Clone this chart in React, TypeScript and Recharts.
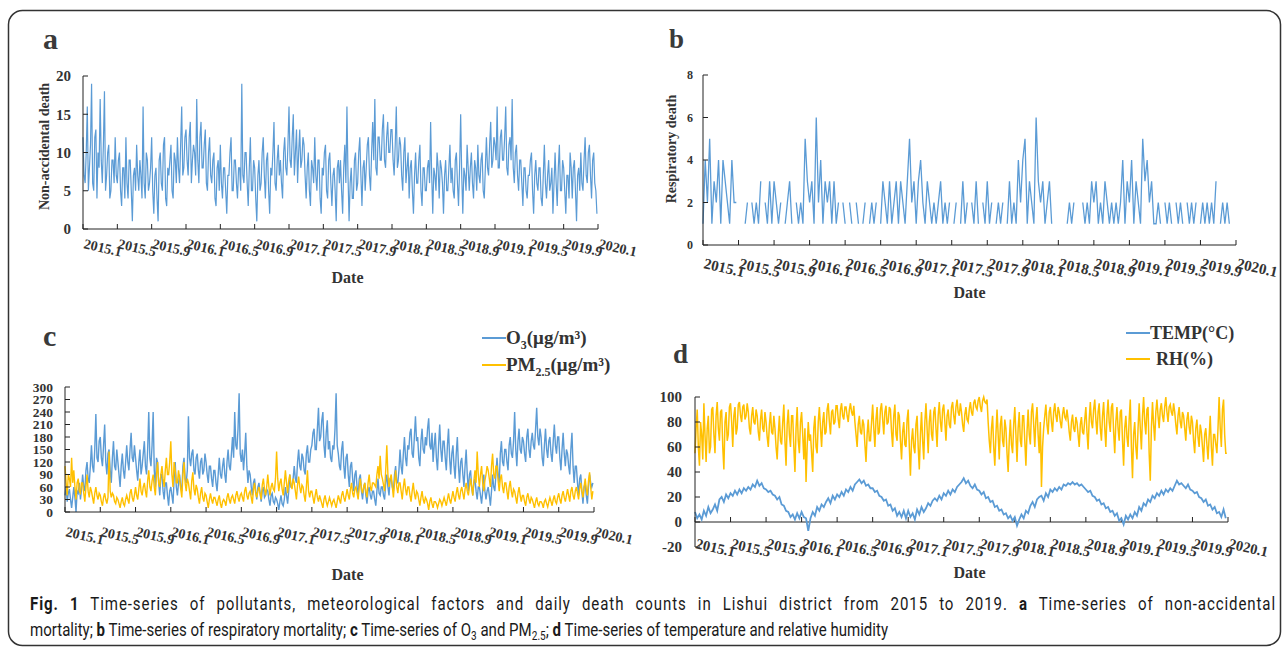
import React, { useLayoutEffect, useRef, useState } from 'react';
import { LineChart, Line, XAxis, YAxis, Legend, ReferenceLine } from 'recharts';

// x axis: months since Jan 2015, one label every 4 months
const TICK_LABELS = [
  '2015.1', '2015.5', '2015.9', '2016.1', '2016.5', '2016.9', '2017.1', '2017.5',
  '2017.9', '2018.1', '2018.5', '2018.9', '2019.1', '2019.5', '2019.9', '2020.1',
];
const MONTHS_PER_TICK = 4;

// a - non-accidental deaths, 8 readings per month
const NON_ACCIDENTAL = [
  12, 7, 6, 10, 16, 5, 8, 11, 19, 6, 5, 12, 13, 4, 10, 8, 17, 9, 6, 11, 18, 5, 7, 10, 11, 4, 5, 9, 9, 6, 12, 7, 6, 9, 10, 5, 3, 8, 8, 4, 12, 6, 4, 9, 9, 5, 1, 7,
  8, 5, 11, 7, 5, 9, 7, 4, 16, 6, 4, 10, 9, 5, 6, 8, 12, 5, 2, 7, 8, 4, 1, 9, 10, 6, 5, 11, 12, 4, 3, 8, 7, 9, 11, 5, 4, 10, 9, 6, 12, 8, 6, 11, 16, 7, 8, 12,
  13, 9, 7, 12, 14, 6, 9, 11, 10, 7, 17, 9, 6, 12, 14, 8, 8, 11, 13, 6, 5, 10, 12, 7, 6, 9, 10, 4, 3, 8, 9, 5, 11, 6, 4, 8, 8, 5, 2, 7, 7, 10, 12, 5, 5, 9, 9, 6,
  4, 8, 8, 5, 19, 7, 6, 10, 10, 6, 3, 8, 12, 5, 5, 9, 8, 4, 1, 7, 9, 5, 6, 10, 12, 7, 4, 9, 10, 5, 2, 8, 7, 10, 14, 6, 5, 9, 11, 7, 9, 6, 4, 10, 12, 8, 7, 11,
  16, 9, 8, 12, 15, 7, 10, 13, 6, 10, 13, 8, 9, 12, 11, 7, 4, 8, 10, 5, 3, 9, 8, 6, 12, 7, 5, 9, 9, 4, 2, 8, 7, 10, 11, 5, 4, 9, 10, 6, 3, 7, 8, 5, 1, 8, 9, 6,
  9, 5, 2, 8, 11, 6, 16, 7, 1, 6, 8, 4, 4, 9, 10, 5, 6, 10, 12, 7, 3, 8, 9, 5, 8, 11, 12, 7, 5, 10, 14, 9, 17, 8, 7, 12, 12, 9, 9, 13, 15, 9, 8, 12, 14, 10, 10, 13,
  13, 9, 7, 11, 16, 8, 9, 12, 11, 7, 5, 10, 12, 6, 8, 10, 4, 8, 9, 5, 2, 7, 10, 6, 6, 9, 11, 5, 3, 8, 8, 5, 5, 8, 9, 6, 14, 7, 2, 8, 7, 5, 10, 8, 4, 9, 8, 6,
  2, 7, 9, 5, 5, 8, 11, 6, 8, 5, 4, 9, 10, 6, 3, 8, 15, 7, 2, 8, 7, 5, 11, 8, 5, 8, 10, 6, 4, 9, 8, 5, 11, 7, 6, 9, 10, 5, 4, 8, 12, 8, 7, 11, 14, 8, 9, 12,
  11, 9, 16, 8, 8, 12, 13, 9, 9, 12, 16, 8, 7, 11, 12, 9, 17, 8, 6, 10, 11, 7, 5, 9, 9, 6, 3, 8, 8, 5, 4, 7, 7, 9, 10, 5, 2, 7, 9, 6, 5, 8, 8, 4, 3, 7, 11, 6,
  4, 7, 9, 5, 6, 8, 2, 6, 10, 6, 3, 8, 11, 5, 5, 9, 8, 5, 2, 7, 7, 4, 10, 8, 4, 8, 9, 5, 1, 7, 8, 5, 10, 6, 5, 9, 12, 7, 6, 10, 11, 7, 4, 9, 10, 6, 5, 2,
];

// b - respiratory deaths, 4 readings per month (null = no death, drawn as a gap)
const RESPIRATORY: (number | null)[] = [
  1, 4, 2, 5, 1, 3, 2, 4, 1, 4, 3, 2, 1, 4, 2, 2, null, 1, null, 1, 2, null, 2, 1, 2, 1, 3, null, 2, 1, 3, 1, 3, 2, 1, 2, null, 1, 2, 3, 1, null, 2, 1, 2, 1, 5, 3,
  2, 3, 1, 6, 2, 4, 1, 3, 2, 3, 1, 3, 1, 2, null, 2, 1, null, 2, 1, null, 2, 1, null, 1, 2, null, 1, 2, 1, 2, null, 1, 3, 2, 1, 3, 1, 2, 3, 1, 3, 2, 1, 3, 5, 2, 3,
  1, 3, 4, 2, 1, 3, 2, 1, 2, 1, 2, 3, 1, 2, 1, 2, null, 1, 2, null, 1, 3, 1, 2, null, 2, 1, 3, 1, null, 2, 1, 3, 1, 2, null, 1, 2, 1, 2, null, 1, 3, 1, 2, 1, 4, 2,
  4, 5, 1, 3, 2, 1, 6, 3, 2, 3, 1, 2, 3, 1, null, null, 1, null, 2, null, 1, 2, 1, 2, null, 1, null, 2, 1, 2, 1, 3, 2, 3, 1, 2, 1, 3, 2, 1, 2, 1, 2, 1, 2, 4, 1, 3,
  2, 4, 1, 3, 2, 1, 5, 3, 4, 2, 3, 1, 1, 2, 1, null, 2, 1, 2, 1, null, 2, 1, 2, 1, null, 2, 1, 2, 1, 2, null, 1, 2, 1, 2, 1, 2, 1, 3, null, 1, 2, 1, 2, 1, null, 2,
];

// c - pollutants (μg/m³), 8 readings per month
const O3 = [
  40, 60, 25, 45, 55, 30, 10, 35, 60, 35, 0, 50, 45, 70, 30, 55, 90, 60, 50, 100, 120, 80, 70, 110, 160, 110, 95, 150, 235, 130, 120, 170,
  180, 130, 110, 160, 210, 120, 90, 140, 150, 100, 70, 130, 170, 110, 100, 150, 120, 90, 60, 110, 140, 100, 80, 120, 160, 120, 100, 150, 190, 130, 120, 160,
  130, 100, 75, 120, 150, 90, 110, 140, 170, 110, 90, 150, 240, 130, 110, 160, 240, 100, 60, 130, 120, 70, 40, 90, 90, 50, 30, 70, 70, 40, 15, 50,
  60, 40, 20, 80, 120, 60, 40, 70, 90, 60, 50, 110, 130, 80, 70, 100, 230, 130, 110, 140, 150, 100, 90, 130, 140, 100, 80, 120, 130, 90, 100, 140,
  120, 90, 70, 110, 110, 80, 60, 100, 100, 70, 50, 90, 130, 90, 80, 110, 130, 90, 70, 120, 150, 110, 100, 140, 180, 130, 240, 160, 150, 200, 285, 140,
  120, 150, 100, 140, 190, 110, 70, 100, 90, 60, 40, 70, 80, 50, 30, 60, 70, 45, 25, 50, 60, 35, 40, 55, 50, 30, 15, 40, 45, 25, 20, 35,
  30, 20, 5, 25, 40, 20, 15, 30, 60, 40, 20, 50, 90, 60, 60, 80, 110, 80, 70, 120, 150, 110, 100, 140, 130, 100, 90, 140, 160, 120, 120, 150,
  160, 190, 200, 150, 150, 200, 250, 170, 180, 220, 240, 160, 130, 190, 220, 150, 170, 130, 120, 160, 150, 200, 285, 160, 140, 110, 100, 150, 170, 110, 80, 130,
  140, 90, 60, 110, 120, 80, 50, 90, 100, 60, 40, 80, 90, 50, 30, 60, 70, 40, 20, 50, 60, 40, 30, 50, 50, 30, 15, 50, 80, 45, 40, 60,
  60, 40, 30, 70, 90, 60, 40, 80, 80, 60, 50, 90, 110, 70, 70, 100, 150, 110, 90, 140, 180, 130, 110, 160, 150, 190, 200, 140, 130, 180, 230, 170,
  180, 130, 110, 170, 200, 150, 140, 180, 160, 200, 225, 160, 150, 190, 120, 160, 190, 130, 100, 160, 210, 150, 120, 170, 170, 130, 100, 160, 200, 130, 90, 140,
  160, 110, 80, 140, 180, 110, 70, 120, 130, 90, 60, 110, 150, 90, 50, 90, 100, 60, 40, 70, 80, 50, 30, 60, 60, 40, 20, 50, 90, 50, 30, 50,
  60, 40, 15, 50, 90, 60, 50, 90, 130, 90, 70, 140, 170, 120, 110, 150, 150, 120, 100, 160, 180, 140, 130, 170, 240, 150, 110, 170, 200, 150, 140, 180,
  170, 140, 120, 180, 200, 150, 130, 170, 190, 160, 150, 200, 250, 180, 160, 200, 180, 130, 110, 160, 200, 150, 130, 170, 180, 140, 120, 170, 210, 160, 140, 180,
  180, 130, 100, 150, 190, 140, 110, 150, 140, 110, 90, 150, 190, 110, 70, 110, 110, 70, 40, 80, 90, 50, 20, 60, 70, 40, 20, 60, 90, 70, 60, 70,
];
const PM25 = [
  110, 70, 40, 90, 80, 60, 130, 70, 100, 60, 30, 70, 80, 50, 45, 70, 70, 45, 25, 60, 90, 50, 35, 60, 50, 35, 20, 45, 60, 40, 30, 45,
  40, 25, 15, 35, 45, 30, 20, 35, 145, 50, 35, 45, 40, 25, 20, 35, 30, 20, 10, 25, 35, 20, 15, 30, 40, 30, 20, 45, 55, 35, 25, 40,
  60, 40, 30, 55, 80, 50, 40, 60, 70, 50, 35, 75, 100, 60, 50, 75, 90, 60, 40, 90, 120, 70, 60, 90, 110, 80, 60, 100, 130, 90, 90, 120,
  170, 90, 60, 120, 100, 70, 70, 100, 80, 55, 35, 90, 120, 70, 50, 80, 70, 50, 30, 75, 95, 55, 40, 65, 55, 35, 20, 45, 60, 35, 25, 45,
  40, 25, 10, 30, 45, 30, 20, 35, 35, 25, 15, 30, 40, 20, 10, 25, 30, 25, 15, 35, 45, 30, 20, 35, 40, 30, 20, 40, 50, 35, 25, 40,
  45, 35, 25, 50, 60, 40, 30, 45, 50, 35, 20, 55, 70, 45, 35, 50, 60, 45, 30, 65, 80, 55, 40, 60, 90, 60, 40, 60, 70, 55, 50, 80,
  145, 80, 50, 70, 80, 55, 40, 70, 100, 70, 45, 75, 90, 65, 55, 80, 70, 50, 30, 65, 85, 60, 45, 65, 60, 40, 25, 60, 100, 50, 35, 50,
  50, 35, 20, 40, 55, 35, 25, 40, 30, 20, 10, 30, 40, 25, 15, 25, 35, 25, 15, 25, 30, 20, 10, 25, 40, 30, 20, 40, 50, 35, 25, 40,
  55, 40, 30, 55, 70, 45, 35, 55, 60, 45, 30, 60, 80, 55, 45, 60, 70, 50, 35, 70, 90, 60, 50, 70, 70, 65, 60, 90, 110, 80, 135, 90,
  80, 65, 50, 100, 160, 90, 60, 80, 90, 60, 35, 70, 100, 60, 45, 70, 70, 50, 30, 60, 80, 55, 40, 60, 60, 40, 25, 50, 70, 45, 30, 50,
  45, 30, 15, 35, 50, 30, 20, 35, 30, 20, 5, 25, 35, 20, 10, 25, 25, 20, 10, 20, 30, 25, 15, 25, 35, 25, 15, 30, 45, 30, 20, 35,
  50, 35, 25, 45, 60, 40, 30, 50, 60, 45, 30, 55, 70, 50, 40, 60, 80, 60, 40, 75, 100, 70, 145, 90, 60, 90, 110, 70, 50, 75, 90, 110,
  100, 80, 60, 110, 140, 90, 80, 110, 110, 75, 50, 80, 90, 60, 45, 70, 70, 50, 30, 60, 75, 50, 35, 55, 50, 35, 20, 45, 60, 40, 25, 40,
  40, 25, 15, 35, 45, 30, 20, 35, 30, 20, 10, 25, 35, 20, 15, 25, 25, 20, 10, 25, 30, 20, 12, 25, 35, 25, 15, 30, 40, 25, 20, 35,
  45, 30, 20, 40, 50, 35, 25, 40, 55, 40, 25, 50, 60, 40, 30, 50, 60, 45, 30, 55, 70, 50, 35, 60, 80, 55, 40, 75, 95, 60, 30, 50,
];

// d - temperature (°C), 4 readings per month
const TEMP = [
  8, 3, 6, 2, 9, 5, 12, 7, 10, 14, 9, 18, 20, 16, 22, 19, 23, 21, 25, 22, 26, 23, 27, 25, 28, 26, 30, 28, 33, 29, 31, 27, 26, 24, 25, 22, 21, 18, 20, 14, 13, 9, 8, 4, 6, 2, 7, 3,
  8, 4, 3, -7, 3, 8, 5, 12, 9, 14, 12, 16, 19, 15, 21, 18, 22, 20, 24, 21, 26, 24, 28, 25, 30, 32, 34, 31, 33, 29, 30, 27, 27, 24, 25, 21, 20, 17, 18, 13, 14, 9, 11, 5, 8, 4, 9, 3,
  9, 4, 7, 2, 10, 6, 12, 8, 11, 15, 13, 17, 19, 17, 21, 18, 23, 21, 25, 22, 26, 24, 28, 30, 32, 35, 31, 33, 29, 27, 30, 26, 25, 22, 24, 19, 20, 16, 17, 12, 13, 9, 10, 6, 7, 3, 5, 1,
  4, -3, 2, 6, 3, 9, 7, 13, 16, 12, 18, 20, 21, 17, 23, 20, 26, 24, 27, 25, 28, 26, 30, 29, 31, 30, 32, 30, 31, 29, 30, 28, 26, 24, 25, 21, 20, 17, 18, 14, 15, 11, 12, 8, 9, 5, 7, 1,
  3, -2, 5, 2, 6, 3, 8, 5, 12, 9, 15, 13, 18, 16, 21, 19, 23, 21, 25, 22, 26, 24, 27, 25, 29, 33, 30, 31, 29, 27, 30, 26, 25, 23, 24, 20, 19, 16, 18, 13, 14, 10, 12, 7, 8, 4, 10, 3,
];

// d - relative humidity (%), 8 readings per month
const RH = [
  55, 75, 90, 60, 45, 80, 70, 50, 95, 70, 48, 75, 85, 55, 60, 90, 92, 70, 55, 85, 96, 75, 65, 88, 90, 60, 42, 80, 88, 65, 70, 92,
  95, 80, 60, 85, 92, 70, 75, 94, 96, 85, 80, 92, 94, 82, 85, 95, 88, 75, 70, 85, 92, 80, 78, 90, 85, 72, 65, 82, 90, 75, 72, 88,
  80, 68, 60, 78, 88, 72, 70, 85, 75, 60, 50, 70, 85, 65, 62, 80, 94, 65, 45, 78, 90, 70, 60, 85, 85, 60, 40, 75, 92, 65, 55, 80,
  88, 70, 50, 75, 32, 60, 80, 65, 70, 55, 40, 75, 85, 60, 55, 80, 92, 75, 60, 80, 88, 70, 72, 90, 95, 80, 70, 88, 90, 78, 80, 93,
  93, 82, 75, 90, 95, 85, 82, 92, 92, 85, 80, 90, 95, 88, 85, 93, 80, 70, 60, 78, 85, 72, 70, 82, 78, 62, 48, 70, 82, 65, 65, 80,
  94, 75, 60, 82, 92, 70, 72, 90, 95, 82, 70, 88, 93, 78, 80, 92, 90, 72, 60, 85, 94, 70, 65, 88, 85, 65, 50, 72, 80, 62, 60, 82,
  90, 60, 37, 65, 75, 60, 55, 78, 85, 60, 42, 70, 88, 65, 50, 80, 95, 75, 55, 80, 90, 70, 65, 88, 92, 75, 60, 85, 96, 80, 72, 90,
  94, 80, 65, 85, 90, 78, 75, 92, 96, 85, 78, 92, 98, 88, 85, 95, 88, 78, 72, 86, 92, 82, 80, 90, 96, 88, 85, 95, 98, 92, 90, 97,
  100, 92, 88, 97, 100, 96, 95, 98, 80, 65, 55, 75, 85, 60, 45, 70, 90, 70, 50, 78, 85, 65, 60, 82, 75, 55, 40, 65, 82, 62, 55, 78,
  92, 70, 48, 75, 88, 65, 60, 85, 85, 65, 45, 72, 90, 70, 62, 88, 95, 78, 60, 82, 92, 70, 55, 80, 28, 60, 75, 85, 94, 78, 70, 88,
  92, 80, 72, 88, 95, 85, 80, 92, 88, 80, 75, 86, 92, 84, 82, 90, 82, 72, 65, 80, 86, 75, 72, 84, 80, 70, 60, 78, 84, 72, 70, 82,
  92, 72, 58, 82, 96, 80, 75, 90, 98, 82, 70, 88, 95, 75, 65, 85, 96, 75, 60, 85, 98, 80, 72, 92, 95, 72, 55, 80, 92, 75, 65, 88,
  90, 65, 45, 75, 85, 68, 60, 82, 98, 60, 35, 70, 80, 60, 50, 75, 95, 75, 58, 85, 100, 80, 70, 90, 92, 55, 33, 75, 96, 78, 65, 88,
  98, 85, 75, 90, 95, 85, 80, 92, 100, 88, 80, 92, 94, 88, 85, 95, 88, 78, 70, 85, 92, 80, 75, 88, 85, 75, 65, 82, 88, 76, 70, 85,
  80, 65, 55, 75, 82, 68, 60, 78, 72, 60, 48, 70, 75, 62, 50, 68, 85, 60, 45, 70, 70, 62, 55, 75, 100, 75, 60, 90, 98, 70, 55, 55,
];

const BLUE = '#5b9bd5';
const GOLD = '#ffc000';
const SERIF = '"Liberation Serif", "Times New Roman", serif';
const SANS = 'Roboto, "Liberation Sans", sans-serif';
const INK = '#333';
const AXIS = '#222';

const TICKS = TICK_LABELS.map((_, i) => i * MONTHS_PER_TICK);
// month offset of reading i when a series holds n readings per month
const when = (i: number, n: number) => i / n;

const rowsA = NON_ACCIDENTAL.map((v, i) => ({ t: when(i, 8), v }));
const rowsB = RESPIRATORY.map((v, i) => ({ t: when(i, 4), v }));
const rowsO3 = O3.map((v, i) => ({ t: when(i, 8), v }));
const rowsPM = PM25.map((v, i) => ({ t: when(i, 8), v }));
const rowsTemp = TEMP.map((v, i) => ({ t: when(i, 4), v }));
const rowsRH = RH.map((v, i) => ({ t: when(i, 8), v }));

function DateTick(props: any) {
  const { x, y, payload, drop = 20, size = 14 } = props;
  const label = TICK_LABELS[Math.round(payload.value / MONTHS_PER_TICK)];
  const ty = y + drop;
  return (
    <text x={x} y={ty} transform={`rotate(13 ${x} ${ty})`} fontFamily={SERIF} fontWeight={700} fontSize={size} fill={INK}>
      {label}
    </text>
  );
}

function ValueTick(props: any) {
  const { x, y, payload, gap = 12, size = 15 } = props;
  return (
    <text x={x - gap} y={y} dy="0.35em" textAnchor="end" fontFamily={SERIF} fontWeight={700} fontSize={size} fill={INK}>
      {payload.value}
    </text>
  );
}

function yTitle(text: string, cx: number, shift: number) {
  return (p: any) => {
    const vb = p.viewBox ?? { y: 0, height: 0 };
    const cy = vb.y + vb.height / 2 + shift;
    return (
      <text x={cx} y={cy} transform={`rotate(-90 ${cx} ${cy})`} textAnchor="middle" dominantBaseline="central"
        fontFamily={SERIF} fontWeight={700} fontSize={14} fill={INK}>
        {text}
      </text>
    );
  };
}

function dateTitle(dx: number, below: number) {
  return (p: any) => {
    const vb = p.viewBox ?? { x: 0, y: 0, width: 0 };
    return (
      <text x={vb.x + vb.width / 2 + dx} y={vb.y + below} textAnchor="middle" fontFamily={SERIF} fontWeight={700} fontSize={16} fill={INK}>
        Date
      </text>
    );
  };
}

type Item = { color: string; label: React.ReactNode; indent?: number };

const LEGEND_C: Item[] = [
  { color: BLUE, label: <>O<sub style={{ fontSize: 12, lineHeight: 0 }}>3</sub>(μg/m³)</> },
  { color: GOLD, label: <>PM<sub style={{ fontSize: 12, lineHeight: 0 }}>2.5</sub>(μg/m³)</> },
];
const LEGEND_D: Item[] = [
  { color: BLUE, label: 'TEMP(°C)' },
  { color: GOLD, label: 'RH(%)', indent: 6 },
];

function LegendList({ items, rowHeight, size }: { items: Item[]; rowHeight: number; size: number }) {
  return (
    <div>
      {items.map((it, i) => (
        <div key={i} style={{ display: 'flex', alignItems: 'center', height: rowHeight, whiteSpace: 'nowrap' }}>
          <svg width={24} height={4} style={{ flex: 'none' }}>
            <line x1={0} y1={2} x2={24} y2={2} stroke={it.color} strokeWidth={2} />
          </svg>
          <span style={{ fontFamily: SERIF, fontWeight: 700, fontSize: size, color: INK, marginLeft: it.indent ?? 0 }}>
            {it.label}
          </span>
        </div>
      ))}
    </div>
  );
}

// caption: both lines share one glyph width; the first line is spread to the full width
const CAPTION_X = 30;
const LINE1_WIDTH = 1246;
const LINE2_WIDTH = 858;

function Caption() {
  const l1 = useRef<SVGTextElement>(null);
  const l2 = useRef<SVGTextElement>(null);
  const [fit, setFit] = useState({ sx: 0.8, ws: 0, ls: 0 });

  useLayoutEffect(() => {
    if (!l1.current || !l2.current) return;
    const n1 = l1.current.getComputedTextLength();
    const n2 = l2.current.getComputedTextLength();
    const sx = LINE2_WIDTH / n2;
    const text = l1.current.textContent || '';
    const spaces = text.split(' ').length - 1;
    const extra = Math.max(0, LINE1_WIDTH / sx - n1);
    // share the spare room between letters and words
    const ls = (extra * 0.5) / text.length;
    const ws = (extra * 0.5) / spaces;
    setFit({ sx, ws, ls });
  }, []);

  return (
    <g transform={`translate(${CAPTION_X} 0) scale(${fit.sx} 1)`} fontFamily={SANS} fontSize={18} fill="#1a1a1a">
      <text ref={l1} x={0} y={610} wordSpacing={fit.ws} letterSpacing={fit.ls}>
        <tspan fontWeight={700}>Fig. 1</tspan>
        {' Time-series of pollutants, meteorological factors and daily death counts in Lishui district from 2015 to 2019. '}
        <tspan fontWeight={700}>a</tspan>
        {' Time-series of non-accidental'}
      </text>
      <text ref={l2} x={0} y={636}>
        {'mortality; '}
        <tspan fontWeight={700}>b</tspan>
        {' Time-series of respiratory mortality; '}
        <tspan fontWeight={700}>c</tspan>
        {' Time-series of O'}
        <tspan fontSize={12} dy={4}>3</tspan>
        <tspan dy={-4}>{' and PM'}</tspan>
        <tspan fontSize={12} dy={4}>2.5</tspan>
        <tspan dy={-4}>{'; '}</tspan>
        <tspan fontWeight={700}>d</tspan>
        {' Time-series of temperature and relative humidity'}
      </text>
    </g>
  );
}

const axisStroke = { stroke: AXIS };

export default function App() {
  return (
    <div style={{ position: 'absolute', left: 0, top: 0, width: 1285, height: 649, background: '#fff', overflow: 'hidden' }}>
      <svg width={1285} height={649} style={{ position: 'absolute', left: 0, top: 0 }}>
        <rect x={8.5} y={10.5} width={1272} height={635} rx={14} fill="none" stroke="#333" strokeWidth={1.5} />
        <g fontFamily={SERIF} fontWeight={700} fill="#3a3a3a">
          <text x={43} y={49} fontSize={30}>a</text>
          <text x={669} y={48} fontSize={27}>b</text>
          <text x={43} y={346} fontSize={30}>c</text>
          <text x={673} y={363} fontSize={27}>d</text>
        </g>
        <Caption />
      </svg>

      {/* a */}
      <div style={{ position: 'absolute', left: 0, top: 0 }}>
        <LineChart width={640} height={305} margin={{ top: 76, right: 42, bottom: 0, left: 23 }}>
          <XAxis dataKey="t" type="number" domain={[0, 60]} ticks={TICKS} interval={0} height={76}
            tickSize={-5} tickMargin={5} axisLine={axisStroke} tickLine={axisStroke}
            tick={<DateTick drop={19} size={14} />} label={dateTitle(7, 54)} />
          <YAxis type="number" domain={[0, 20]} ticks={[0, 5, 10, 15, 20]} interval={0} width={60}
            tickSize={-5} tickMargin={5} axisLine={axisStroke} tickLine={axisStroke}
            tick={<ValueTick gap={12} size={15} />} label={yTitle('Non-accidental death', 44, -6)} />
          <Line data={rowsA} dataKey="v" stroke={BLUE} strokeWidth={1.2} dot={false} isAnimationActive={false} />
        </LineChart>
      </div>

      {/* b */}
      <div style={{ position: 'absolute', left: 640, top: 0 }}>
        <LineChart width={645} height={310} margin={{ top: 75, right: 49, bottom: 0, left: 23 }}>
          <XAxis dataKey="t" type="number" domain={[0, 60]} ticks={TICKS} interval={0} height={65}
            tickSize={-5} tickMargin={5} axisLine={axisStroke} tickLine={axisStroke}
            tick={<DateTick drop={23} size={15} />} label={dateTitle(0, 53)} />
          <YAxis type="number" domain={[0, 8]} ticks={[0, 2, 4, 6, 8]} interval={0} width={40}
            tickSize={-5} tickMargin={5} axisLine={axisStroke} tickLine={axisStroke}
            tick={<ValueTick gap={10} size={12} />} label={yTitle('Respiratory death', 31, -11)} />
          <Line data={rowsB} dataKey="v" stroke={BLUE} strokeWidth={1.3} dot={false} connectNulls={false} isAnimationActive={false} />
        </LineChart>
      </div>

      {/* c */}
      <div style={{ position: 'absolute', left: 0, top: 300 }}>
        <LineChart width={640} height={295} margin={{ top: 87, right: 46, bottom: 0, left: 25 }}>
          <XAxis dataKey="t" type="number" domain={[0, 60]} ticks={TICKS} interval={0} height={83}
            tickSize={-5} tickMargin={5} axisLine={axisStroke} tickLine={axisStroke}
            tick={<DateTick drop={24} size={14} />} label={dateTitle(18, 68)} />
          <YAxis type="number" domain={[0, 300]} ticks={[0, 30, 60, 90, 120, 150, 180, 210, 240, 270, 300]} interval={0} width={40}
            tickSize={-5} tickMargin={5} axisLine={axisStroke} tickLine={axisStroke}
            tick={<ValueTick gap={12} size={13.5} />} />
          <Legend layout="vertical" align="center" verticalAlign="middle"
            wrapperStyle={{ position: 'absolute', left: 482, top: 24, width: 160, height: 54 }}
            content={() => <LegendList items={LEGEND_C} rowHeight={27} size={19} />} />
          <Line data={rowsO3} dataKey="v" name="O3(μg/m³)" stroke={BLUE} strokeWidth={1.4} dot={false} isAnimationActive={false} />
          <Line data={rowsPM} dataKey="v" name="PM2.5(μg/m³)" stroke={GOLD} strokeWidth={1.4} dot={false} isAnimationActive={false} />
        </LineChart>
      </div>

      {/* d */}
      <div style={{ position: 'absolute', left: 640, top: 300 }}>
        <LineChart width={645} height={295} margin={{ top: 97, right: 57, bottom: 0, left: 15 }}>
          <XAxis dataKey="t" type="number" domain={[0, 60]} ticks={TICKS} interval={0} height={48}
            tickSize={0} tickMargin={0} axisLine={false} tickLine={false}
            tick={<DateTick drop={1} size={14.5} />} label={dateTitle(8, 31)} />
          <YAxis type="number" domain={[-20, 100]} ticks={[-20, 0, 20, 40, 60, 80, 100]} interval={0} width={40}
            tickSize={-5} tickMargin={5} axisLine={axisStroke} tickLine={axisStroke}
            tick={<ValueTick gap={13} size={15} />} />
          <ReferenceLine y={0} stroke={AXIS} strokeWidth={1} />
          {TICKS.map((t) => (
            <ReferenceLine key={t} segment={[{ x: t, y: 0 }, { x: t, y: 4 }]} stroke={AXIS} strokeWidth={1} />
          ))}
          <Legend layout="vertical" align="center" verticalAlign="middle"
            wrapperStyle={{ position: 'absolute', left: 486, top: 20, width: 140, height: 52 }}
            content={() => <LegendList items={LEGEND_D} rowHeight={26} size={18} />} />
          <Line data={rowsRH} dataKey="v" name="RH(%)" stroke={GOLD} strokeWidth={1.5} dot={false} isAnimationActive={false} />
          <Line data={rowsTemp} dataKey="v" name="TEMP(°C)" stroke={BLUE} strokeWidth={1.8} dot={false} isAnimationActive={false} />
        </LineChart>
      </div>
    </div>
  );
}
